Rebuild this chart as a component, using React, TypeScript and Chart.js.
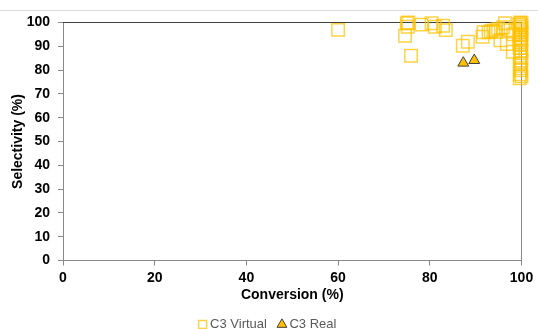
import React, { useEffect, useRef } from "react";
import { Chart, registerables } from "chart.js";

Chart.register(...registerables);

// C3 Virtual (hollow squares)
const virtualConversion = [
  60.0, 75.3, 75.0, 75.2, 74.6, 75.9, 78.2, 80.4, 81.1, 82.9, 83.5,
  87.2, 88.3, 91.5, 91.7, 92.8, 93.3, 93.9, 94.4, 94.9, 96.0, 96.4, 97.1,
  95.4, 96.8, 98.1, 98.2,
  99.7, 100, 99.5, 99.8, 100, 99.6, 99.9, 99.7, 100, 99.5, 99.8, 100,
  99.7, 99.9, 99.6, 100, 99.8, 99.7, 100, 99.6, 99.8, 99.9, 99.7, 100, 99.6,
];
const virtualSelectivity = [
  96.9, 100, 99.7, 98.2, 94.4, 86.0, 99.1, 99.7, 98.2, 98.6, 96.8,
  90.2, 91.9, 94.0, 95.9, 95.9, 96.3, 96.6, 96.0, 97.3, 98.0, 99.7, 96.8,
  92.5, 91.0, 87.7, 95.1,
  100, 99.8, 99.3, 98.9, 98.1, 97.4, 96.8, 95.9, 95.2, 94.6, 93.5, 92.8,
  91.6, 90.9, 89.4, 88.2, 87.1, 85.3, 84.0, 82.6, 80.8, 79.9, 78.2, 77.4, 76.6,
];

// C3 Real (filled triangles)
const realConversion = [87.3, 89.7];
const realSelectivity = [83.0, 84.1];

const xTickStep = 20;
const yTickStep = 10;
const axisMin = 0;
const axisMax = 100;

const xTitle = "Conversion (%)";
const yTitle = "Selectivity (%)";
const virtualLabel = "C3 Virtual";
const realLabel = "C3 Real";

const FONT = "'Liberation Sans', Arial, sans-serif";

const framePlugin = {
  id: "frame",
  beforeDraw(chart: any) {
    const { ctx, width } = chart;
    ctx.save();
    ctx.strokeStyle = "#d9d9d9";
    ctx.lineWidth = 1;
    ctx.beginPath();
    ctx.moveTo(0, 10.5);
    ctx.lineTo(width, 10.5);
    ctx.stroke();
    ctx.restore();
  },
  beforeDatasetsDraw(chart: any) {
    const { ctx, chartArea } = chart;
    ctx.save();
    ctx.lineWidth = 1;
    ctx.strokeStyle = "#404040";
    ctx.beginPath();
    ctx.moveTo(chartArea.left, chartArea.top);
    ctx.lineTo(chartArea.right, chartArea.top);
    ctx.stroke();
    ctx.restore();
  },
};

export default function App() {
  const ref = useRef<HTMLCanvasElement | null>(null);

  useEffect(() => {
    document.body.style.margin = "0";
    const canvas = ref.current;
    if (!canvas) return;

    const virtualData = virtualConversion.map((x, i) => ({ x, y: virtualSelectivity[i] }));
    const realData = realConversion.map((x, i) => ({ x, y: realSelectivity[i] }));

    const axisFont = { family: FONT, size: 14, weight: "bold" };

    const chart = new Chart(canvas, {
      type: "scatter",
      data: {
        datasets: [
          {
            label: virtualLabel,
            data: virtualData,
            pointStyle: "rect",
            pointRadius: 8.8,
            pointHoverRadius: 8.8,
            borderWidth: 1.5,
            borderColor: "rgba(255,192,0,0.72)",
            backgroundColor: "rgba(255,255,255,0)",
            clip: false,
          } as any,
          {
            label: realLabel,
            data: realData,
            pointStyle: "triangle",
            pointRadius: 6.3,
            pointHoverRadius: 6.3,
            borderWidth: 1,
            borderColor: "#404040",
            backgroundColor: "#FFC000",
            clip: false,
          } as any,
        ],
      },
      options: {
        responsive: false,
        animation: false,
        devicePixelRatio: 1,
        layout: { padding: { left: 0, right: 0, top: 22.5, bottom: -12 } },
        plugins: {
          tooltip: { enabled: false },
          legend: {
            display: true,
            position: "bottom",
            labels: {
              usePointStyle: true,
              boxWidth: 2,
              boxHeight: 8,
              padding: 14,
              color: "#595959",
              font: { family: FONT, size: 13 },
            },
          },
        },
        scales: {
          x: {
            type: "linear",
            min: axisMin,
            max: axisMax,
            afterFit: (scale: any) => {
              scale.height = 43.5;
            },
            ticks: {
              stepSize: xTickStep,
              color: "#000",
              padding: 4,
              font: axisFont,
            },
            grid: {
              display: true,
              drawOnChartArea: false,
              drawTicks: true,
              tickLength: 5,
              color: "#898989",
            },
            border: { display: true, color: "#898989", width: 1 },
            title: {
              display: true,
              text: xTitle,
              color: "#000",
              font: axisFont,
              padding: { top: 0, bottom: 0 },
            },
          },
          y: {
            type: "linear",
            position: "left",
            min: axisMin,
            max: axisMax,
            afterFit: (scale: any) => {
              scale.width = 63;
            },
            ticks: {
              stepSize: yTickStep,
              color: "#000",
              padding: 8,
              font: axisFont,
            },
            grid: {
              display: true,
              drawOnChartArea: false,
              drawTicks: true,
              tickLength: 5,
              color: "#898989",
            },
            border: { display: true, color: "#898989", width: 1 },
            title: {
              display: true,
              text: yTitle,
              color: "#000",
              font: axisFont,
              padding: { top: 9.5, bottom: 0 },
            },
          },
          yRight: {
            type: "linear",
            position: "right",
            min: axisMin,
            max: axisMax,
            afterFit: (scale: any) => {
              scale.width = 16.5;
            },
            ticks: { display: false },
            grid: { display: false, drawOnChartArea: false, drawTicks: false },
            border: { display: true, color: "#898989", width: 1 },
          },
        },
      } as any,
      plugins: [framePlugin],
    });

    return () => chart.destroy();
  }, []);

  return (
    <div style={{ width: 538, height: 329 }}>
      <canvas ref={ref} width={538} height={329} style={{ display: "block" }} />
    </div>
  );
}
